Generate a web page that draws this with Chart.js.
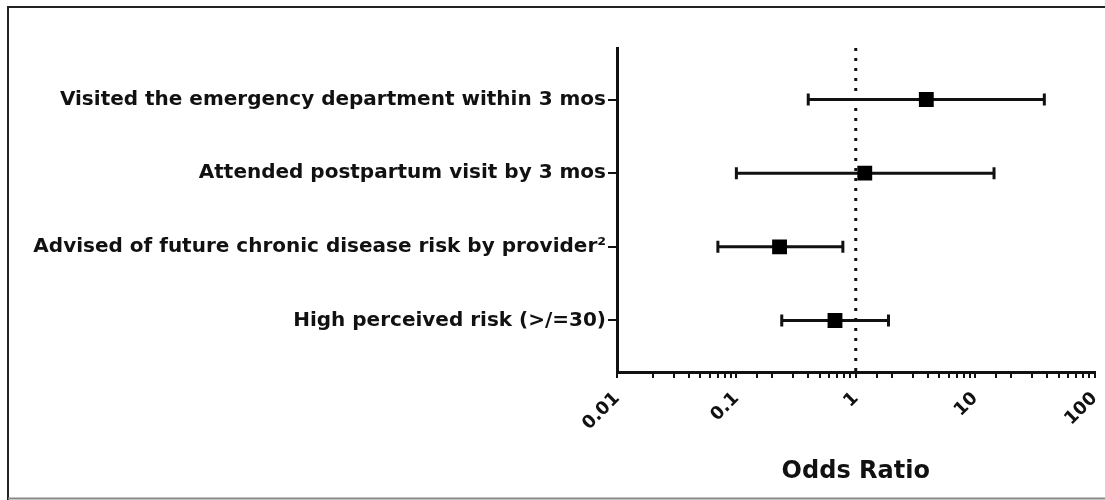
<!DOCTYPE html>
<html>
<head>
    <title>Odds Ratio</title>
    <script src="https://cdn.jsdelivr.net/npm/chart.js"></script>
    <style>
        body { margin: 0; background: #fff; }
    </style>
</head>
<body>
    <canvas id="orChart" width="1105" height="500"></canvas>
    <script>
        const categories = [
            'Visited the emergency department within 3 mos',
            'Attended postpartum visit by 3 mos',
            'Advised of future chronic disease risk by provider\u00B2',
            'High perceived risk (>/=30)'
        ];
        const oddsRatio = [3.9, 1.19, 0.23, 0.67];
        const ciLower = [0.40, 0.10, 0.07, 0.24];
        const ciUpper = [38, 14.4, 0.78, 1.88];
        const xTicks = [0.01, 0.1, 1, 10, 100];
        const refLine = 1;

        const font = "'DejaVu Sans', Arial, sans-serif";

        // error bars, reference line and outer frame
        const forestPlugin = {
            id: 'forest',
            beforeDatasetsDraw(chart) {
                const ctx = chart.ctx;
                const x = chart.scales.x, y = chart.scales.y;
                const area = chart.chartArea;
                ctx.save();
                ctx.strokeStyle = '#111';
                ctx.lineWidth = 3;
                ctx.setLineDash([3, 7]);
                const rx = x.getPixelForValue(refLine);
                ctx.beginPath();
                ctx.moveTo(rx, area.top);
                ctx.lineTo(rx, area.bottom);
                ctx.stroke();
                ctx.setLineDash([]);
                ctx.lineWidth = 3;
                categories.forEach((c, i) => {
                    const py = y.getPixelForValue(i + 1);
                    const x1 = x.getPixelForValue(ciLower[i]);
                    const x2 = x.getPixelForValue(ciUpper[i]);
                    ctx.beginPath();
                    ctx.moveTo(x1, py);
                    ctx.lineTo(x2, py);
                    ctx.moveTo(x1, py - 6);
                    ctx.lineTo(x1, py + 6);
                    ctx.moveTo(x2, py - 6);
                    ctx.lineTo(x2, py + 6);
                    ctx.stroke();
                });
                ctx.restore();
            },
            afterDraw(chart) {
                const ctx = chart.ctx;
                ctx.save();
                ctx.lineWidth = 2;
                ctx.strokeStyle = '#222';
                ctx.beginPath();
                ctx.moveTo(8, chart.height);
                ctx.lineTo(8, 7);
                ctx.lineTo(chart.width, 7);
                ctx.stroke();
                ctx.strokeStyle = '#888';
                ctx.beginPath();
                ctx.moveTo(8, 498.5);
                ctx.lineTo(chart.width, 498.5);
                ctx.stroke();
                ctx.restore();
            }
        };

        const ctx = document.getElementById('orChart').getContext('2d');
        new Chart(ctx, {
            type: 'scatter',
            data: {
                datasets: [{
                    data: oddsRatio.map((v, i) => ({ x: v, y: i + 1 })),
                    pointStyle: 'rect',
                    pointRadius: 10.5,
                    pointHoverRadius: 10.5,
                    backgroundColor: '#000',
                    borderColor: '#000',
                    borderWidth: 0
                }]
            },
            options: {
                responsive: false,
                animation: false,
                layout: { padding: { top: 48, right: 8, bottom: 6, left: 0 } },
                plugins: { legend: { display: false }, tooltip: { enabled: false } },
                scales: {
                    x: {
                        type: 'logarithmic',
                        min: 0.01,
                        max: 100,
                        border: { color: '#111', width: 3 },
                        grid: { drawOnChartArea: false, color: '#111', tickLength: 6, lineWidth: 2 },
                        ticks: {
                            autoSkip: false,
                            minRotation: 45,
                            maxRotation: 45,
                            padding: 10,
                            color: '#111',
                            font: { family: font, size: 18, weight: 'bold' },
                            callback: v => xTicks.includes(v) ? String(v) : ''
                        },
                        title: {
                            display: true,
                            text: 'Odds Ratio',
                            color: '#111',
                            font: { family: font, size: 24, weight: 'bold' },
                            padding: { top: 4, bottom: 8 }
                        },
                        afterFit: s => { s.height = 122; s.paddingRight = 0; s.paddingLeft = 0; }
                    },
                    y: {
                        type: 'linear',
                        reverse: true,
                        min: 0.3,
                        max: 4.7,
                        border: { color: '#111', width: 3 },
                        grid: { drawOnChartArea: false, color: '#111', tickLength: 9, lineWidth: 2 },
                        afterBuildTicks: s => { s.ticks = categories.map((c, i) => ({ value: i + 1 })); },
                        ticks: {
                            color: '#111',
                            padding: 2,
                            font: { family: font, size: 20, weight: 'bold' },
                            callback: v => categories[v - 1]
                        },
                        afterFit: s => { s.width = 617; }
                    }
                }
            },
            plugins: [forestPlugin]
        });
    </script>
</body>
</html>
